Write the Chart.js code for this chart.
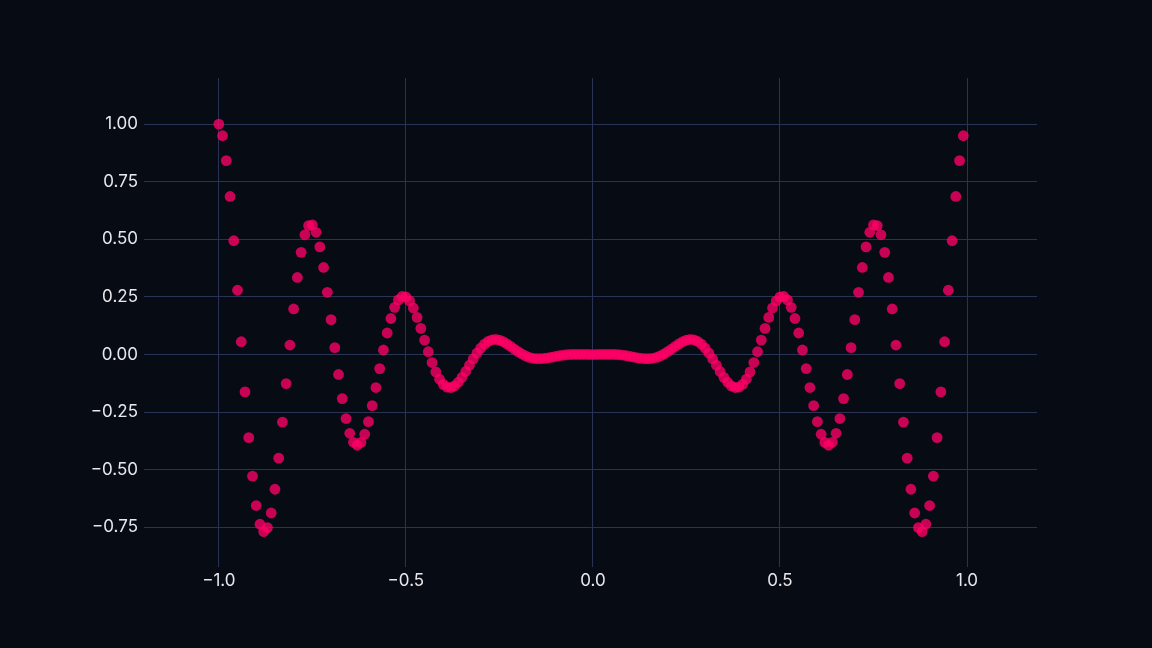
<!DOCTYPE html>
<html>
<head>
<meta charset="utf-8">
<script src="https://cdn.jsdelivr.net/npm/chart.js@4.4.1/dist/chart.umd.min.js"></script>
<style>
  html, body { margin: 0; padding: 0; background: #070b14; }
  #wrap { width: 1152px; height: 648px; }
</style>
</head>
<body>
<div id="wrap"><canvas id="scatterChart"></canvas></div>
<script>
const xValues = [
    -1.00, -0.99, -0.98, -0.97, -0.96, -0.95, -0.94, -0.93, -0.92, -0.91,
    -0.90, -0.89, -0.88, -0.87, -0.86, -0.85, -0.84, -0.83, -0.82, -0.81,
    -0.80, -0.79, -0.78, -0.77, -0.76, -0.75, -0.74, -0.73, -0.72, -0.71,
    -0.70, -0.69, -0.68, -0.67, -0.66, -0.65, -0.64, -0.63, -0.62, -0.61,
    -0.60, -0.59, -0.58, -0.57, -0.56, -0.55, -0.54, -0.53, -0.52, -0.51,
    -0.50, -0.49, -0.48, -0.47, -0.46, -0.45, -0.44, -0.43, -0.42, -0.41,
    -0.40, -0.39, -0.38, -0.37, -0.36, -0.35, -0.34, -0.33, -0.32, -0.31,
    -0.30, -0.29, -0.28, -0.27, -0.26, -0.25, -0.24, -0.23, -0.22, -0.21,
    -0.20, -0.19, -0.18, -0.17, -0.16, -0.15, -0.14, -0.13, -0.12, -0.11,
    -0.10, -0.09, -0.08, -0.07, -0.06, -0.05, -0.04, -0.03, -0.02, -0.01,
    0.00, 0.01, 0.02, 0.03, 0.04, 0.05, 0.06, 0.07, 0.08, 0.09,
    0.10, 0.11, 0.12, 0.13, 0.14, 0.15, 0.16, 0.17, 0.18, 0.19,
    0.20, 0.21, 0.22, 0.23, 0.24, 0.25, 0.26, 0.27, 0.28, 0.29,
    0.30, 0.31, 0.32, 0.33, 0.34, 0.35, 0.36, 0.37, 0.38, 0.39,
    0.40, 0.41, 0.42, 0.43, 0.44, 0.45, 0.46, 0.47, 0.48, 0.49,
    0.50, 0.51, 0.52, 0.53, 0.54, 0.55, 0.56, 0.57, 0.58, 0.59,
    0.60, 0.61, 0.62, 0.63, 0.64, 0.65, 0.66, 0.67, 0.68, 0.69,
    0.70, 0.71, 0.72, 0.73, 0.74, 0.75, 0.76, 0.77, 0.78, 0.79,
    0.80, 0.81, 0.82, 0.83, 0.84, 0.85, 0.86, 0.87, 0.88, 0.89,
    0.90, 0.91, 0.92, 0.93, 0.94, 0.95, 0.96, 0.97, 0.98, 0.99
];

const yValues = [
    1.0000, 0.9493, 0.8416, 0.6859, 0.4938, 0.2789, 0.0555, -0.1621, -0.3604, -0.5279,
    -0.6553, -0.7365, -0.7683, -0.7509, -0.6877, -0.5845, -0.4498, -0.2933, -0.1260, 0.0412,
    0.1978, 0.3344, 0.4435, 0.5196, 0.5595, 0.5625, 0.5304, 0.4670, 0.3779, 0.2701,
    0.1514, 0.0299, -0.0867, -0.1911, -0.2777, -0.3418, -0.3808, -0.3938, -0.3814, -0.3460,
    -0.2913, -0.2219, -0.1432, -0.0609, 0.0197, 0.0935, 0.1563, 0.2048, 0.2370, 0.2519,
    0.2500, 0.2326, 0.2019, 0.1610, 0.1134, 0.0626, 0.0122, -0.0347, -0.0751, -0.1072,
    -0.1294, -0.1414, -0.1433, -0.1358, -0.1205, -0.0991, -0.0737, -0.0464, -0.0192, 0.0060,
    0.0278, 0.0451, 0.0572, 0.0639, 0.0655, 0.0625, 0.0558, 0.0464, 0.0353, 0.0236,
    0.0124, 0.0023, -0.0061, -0.0123, -0.0163, -0.0182, -0.0182, -0.0168, -0.0143, -0.0113,
    -0.0081, -0.0052, -0.0027, -0.0009, 0.0002, 0.0008, 0.0009, 0.0007, 0.0004, 0.0001,
    0.0000, 0.0001, 0.0004, 0.0007, 0.0009, 0.0008, 0.0002, -0.0009, -0.0027, -0.0052,
    -0.0081, -0.0113, -0.0143, -0.0168, -0.0182, -0.0182, -0.0163, -0.0123, -0.0061, 0.0023,
    0.0124, 0.0236, 0.0353, 0.0464, 0.0558, 0.0625, 0.0655, 0.0639, 0.0572, 0.0451,
    0.0278, 0.0060, -0.0192, -0.0464, -0.0737, -0.0991, -0.1205, -0.1358, -0.1433, -0.1414,
    -0.1294, -0.1072, -0.0751, -0.0347, 0.0122, 0.0626, 0.1134, 0.1610, 0.2019, 0.2326,
    0.2500, 0.2519, 0.2370, 0.2048, 0.1563, 0.0935, 0.0197, -0.0609, -0.1432, -0.2219,
    -0.2913, -0.3460, -0.3814, -0.3938, -0.3808, -0.3418, -0.2777, -0.1911, -0.0867, 0.0299,
    0.1514, 0.2701, 0.3779, 0.4670, 0.5304, 0.5625, 0.5595, 0.5196, 0.4435, 0.3344,
    0.1978, 0.0412, -0.1260, -0.2933, -0.4498, -0.5845, -0.6877, -0.7509, -0.7683, -0.7365,
    -0.6553, -0.5279, -0.3604, -0.1621, 0.0555, 0.2789, 0.4938, 0.6859, 0.8416, 0.9493
];

const xTicks = [-1.0, -0.5, 0.0, 0.5, 1.0];
const xTickLabels = ["\u22121.0", "\u22120.5", "0.0", "0.5", "1.0"];
const yTicks = [-0.75, -0.50, -0.25, 0.00, 0.25, 0.50, 0.75, 1.00];
const yTickLabels = ["\u22120.75", "\u22120.50", "\u22120.25", "0.00", "0.25", "0.50", "0.75", "1.00"];

const tickFont = { family: "Inter, 'Open Sans', sans-serif", size: 17 };
const tickColor = "#e8e8ec";
const gridColor = "#2a3354";

function initChart() {
    const ctx = document.getElementById("scatterChart").getContext("2d");

    new Chart(ctx, {
        type: "scatter",
        data: {
            datasets: [{
                data: xValues.map((x, i) => ({ x: x, y: yValues[i] })),
                backgroundColor: "rgba(255, 0, 102, 0.78)",
                borderWidth: 0,
                pointRadius: 5.4,
                pointHoverRadius: 5.4
            }]
        },
        options: {
            responsive: true,
            maintainAspectRatio: false,
            animation: false,
            layout: {
                padding: { left: 0, right: 115, top: 78, bottom: 0 }
            },
            plugins: {
                legend: { display: false },
                tooltip: { enabled: false }
            },
            scales: {
                x: {
                    type: "linear",
                    min: -1.2,
                    max: 1.187,
                    border: { display: false },
                    grid: { color: gridColor, lineWidth: 1, drawTicks: false },
                    afterBuildTicks: axis => { axis.ticks = xTicks.map(v => ({ value: v })); },
                    afterFit: axis => { axis.height = 81; },
                    ticks: {
                        color: tickColor,
                        font: tickFont,
                        padding: 4,
                        maxRotation: 0,
                        callback: (value, index) => xTickLabels[index]
                    }
                },
                y: {
                    type: "linear",
                    min: -0.922,
                    max: 1.2,
                    border: { display: false },
                    grid: { color: gridColor, lineWidth: 1, drawTicks: false },
                    afterBuildTicks: axis => { axis.ticks = yTicks.map(v => ({ value: v })); },
                    afterFit: axis => { axis.width = 144; },
                    ticks: {
                        color: tickColor,
                        font: tickFont,
                        padding: 6,
                        callback: (value, index) => yTickLabels[index]
                    }
                }
            }
        }
    });
}

document.addEventListener('DOMContentLoaded', initChart);
</script>
</body>
</html>
